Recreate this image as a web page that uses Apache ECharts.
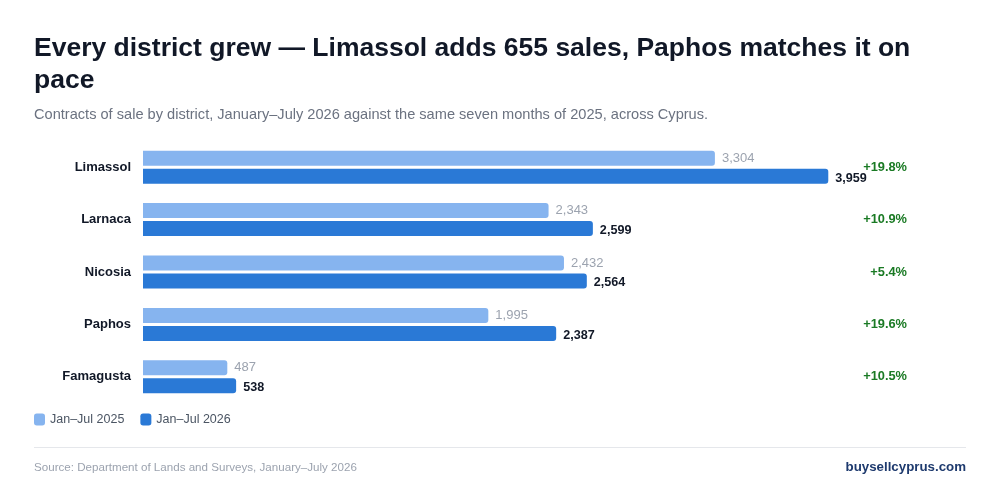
<!DOCTYPE html>
<html>
<head>
<meta charset="utf-8">
<script src="https://cdn.jsdelivr.net/npm/echarts@6/dist/echarts.min.js"></script>
<style>
  html, body { margin: 0; padding: 0; background: #ffffff; }
  #chart { width: 1000px; height: 497px; }
</style>
</head>
<body>
<div id="chart"></div>
<script>
// data
var districts = ['Limassol', 'Larnaca', 'Nicosia', 'Paphos', 'Famagusta']
var sales2025 = [3304, 2343, 2432, 1995, 487]
var sales2026 = [3959, 2599, 2564, 2387, 538]
var seriesNames = ['Jan–Jul 2025', 'Jan–Jul 2026']

var changeLabels = districts.map(function (d, i) {
  var pct = (sales2026[i] - sales2025[i]) / sales2025[i] * 100
  return (pct >= 0 ? '+' : '') + pct.toFixed(1) + '%'
})

var fontFamily = '"Liberation Sans", Arial, Helvetica, sans-serif'
var fmt = function (p) { return p.value.toLocaleString('en-US') }

var myChart = echarts.init(document.getElementById('chart'))

myChart.setOption({
  backgroundColor: '#ffffff',
  textStyle: { fontFamily: fontFamily },
  animation: false,
  color: ['#86b4ef', '#2a79d6'],
  title: [{
    text: 'Every district grew — Limassol adds 655 sales, Paphos matches it on\npace',
    left: 29,
    top: 28,
    textStyle: { fontSize: 26.5, fontWeight: 'bold', color: '#111827', lineHeight: 32, fontFamily: fontFamily }
  }, {
    text: 'Contracts of sale by district, January–July 2026 against the same seven months of 2025, across Cyprus.',
    left: 29,
    top: 102,
    textStyle: { fontSize: 14.6, fontWeight: 'normal', color: '#6b7280', fontFamily: fontFamily }
  }, {
    text: 'Source: Department of Lands and Surveys, January–July 2026',
    left: 29,
    top: 457,
    textStyle: { fontSize: 11.6, fontWeight: 'normal', color: '#9ca3af', fontFamily: fontFamily }
  }, {
    text: 'buysellcyprus.com',
    right: 29,
    top: 456,
    textStyle: { fontSize: 13.3, fontWeight: 'bold', color: '#1e3a6e', fontFamily: fontFamily }
  }],
  graphic: [{
    type: 'rect',
    shape: { x: 34, y: 447, width: 932, height: 1 },
    style: { fill: '#e5e7eb' }
  }],
  legend: {
    data: seriesNames,
    left: 29,
    top: 408,
    icon: 'roundRect',
    itemWidth: 11,
    itemHeight: 12,
    itemGap: 16,
    textStyle: { fontSize: 12.5, color: '#4b5563', fontFamily: fontFamily }
  },
  grid: { left: 143, right: 130, top: 141, bottom: 94, containLabel: false },
  xAxis: {
    type: 'value',
    min: 0,
    max: 4200,
    show: false
  },
  yAxis: [{
    type: 'category',
    data: districts,
    inverse: true,
    axisLine: { show: false },
    axisTick: { show: false },
    axisLabel: { fontSize: 13, fontWeight: 'bold', color: '#111827', margin: 12 }
  }, {
    type: 'category',
    data: changeLabels,
    inverse: true,
    position: 'right',
    axisLine: { show: false },
    axisTick: { show: false },
    axisLabel: { fontSize: 12.8, fontWeight: 'bold', color: '#1a7a24', margin: 37, align: 'right' }
  }],
  series: [{
    name: seriesNames[0],
    type: 'bar',
    data: sales2025,
    barWidth: 15,
    barGap: '20%',
    itemStyle: { borderRadius: [0, 3, 3, 0] },
    label: { show: true, position: 'right', distance: 7, fontSize: 13, color: '#9ca3af', formatter: fmt }
  }, {
    name: seriesNames[1],
    type: 'bar',
    data: sales2026,
    barWidth: 15,
    itemStyle: { borderRadius: [0, 3, 3, 0] },
    label: { show: true, position: 'right', distance: 7, offset: [0, 2], fontSize: 12.6, fontWeight: 'bold', color: '#111827', formatter: fmt }
  }]
})
</script>
</body>
</html>
